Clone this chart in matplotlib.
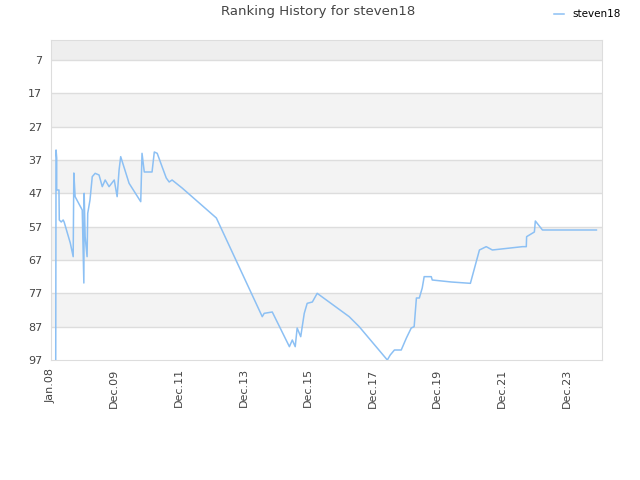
import matplotlib
matplotlib.use("Agg")
import matplotlib.pyplot as plt

# Ranking history (decimal year, rank)
years = [2008.11, 2008.12, 2008.14, 2008.14, 2008.21, 2008.22, 2008.28, 2008.34, 2008.37,
         2008.56, 2008.65, 2008.67, 2008.71, 2008.93, 2008.98, 2008.99, 2009.02, 2009.08,
         2009.10, 2009.17, 2009.24, 2009.33, 2009.45, 2009.55, 2009.64, 2009.76, 2009.92,
         2010.01, 2010.07, 2010.12, 2010.38, 2010.74, 2010.78, 2010.85, 2011.09, 2011.16,
         2011.25, 2011.40, 2011.53, 2011.62, 2011.71, 2012.02, 2013.08, 2014.50, 2014.56,
         2014.81, 2015.34, 2015.43, 2015.52, 2015.58, 2015.69, 2015.80, 2015.89, 2016.05,
         2016.20, 2017.19, 2017.50, 2018.37, 2018.46, 2018.59, 2018.80, 2018.96, 2019.11,
         2019.20, 2019.27, 2019.36, 2019.45, 2019.51, 2019.73, 2019.76, 2020.35, 2020.94,
         2021.22, 2021.43, 2021.62, 2022.55, 2022.67, 2022.68, 2022.92, 2022.95, 2023.17,
         2024.84]
ranks = [97, 34, 36.4, 46, 46, 55, 55.6, 55, 55.6,
         61.9, 66, 40.9, 48, 52, 73.9, 47, 60, 66,
         53, 49, 42, 41, 41.5, 45, 43, 45, 43,
         48, 40, 36, 44, 49.5, 35, 40.6, 40.6, 34.6,
         35, 39, 42.4, 43.6, 43, 45.4, 54.4, 84, 83,
         82.6, 93, 91, 93, 87.4, 90, 83, 80, 79.6,
         77, 84, 87, 97, 95.5, 94, 94, 90.4, 87.4,
         87, 78.4, 78.4, 75.4, 72, 72, 73, 73.6, 74,
         64, 63, 64, 63, 63, 60, 58.6, 55.3, 58,
         58]

tick_labels = ["Jan.08", "Dec.09", "Dec.11", "Dec.13", "Dec.15",
               "Dec.17", "Dec.19", "Dec.21", "Dec.23"]
y_ticks = [7, 17, 27, 37, 47, 57, 67, 77, 87, 97]

x_min, x_max = 2007.95, 2025.0
y_top, y_bottom = 1, 97

fig = plt.figure(figsize=(6.4, 4.8), dpi=100)
ax = fig.add_axes([0.079, 0.25, 0.861, 0.6667])

# background bands
ax.axhspan(y_top, 7, color="#eeeeee", zorder=0, lw=0)
for lo in range(17, 97, 20):
    ax.axhspan(lo, lo + 10, color="#f3f3f3", zorder=0, lw=0)
for t in y_ticks[:-1]:
    ax.axhline(t, color="#dddddd", lw=1, zorder=1)

ax.plot(years, ranks, color="#8cc0f4", lw=1.1, zorder=3, label="steven18")

ax.set_xlim(x_min, x_max)
ax.set_ylim(y_bottom, y_top)

x_ticks = [x_min] + [2009.917 + 2 * i for i in range(8)]
ax.set_xticks(x_ticks)
ax.set_xticklabels(tick_labels, rotation=90, fontsize=8, color="#444444")
ax.set_yticks(y_ticks)
ax.set_yticklabels([str(t) for t in y_ticks], fontsize=8, color="#444444")
ax.tick_params(length=0, pad=6)

for s in ax.spines.values():
    s.set_color("#dddddd")

fig.text(0.497, 0.975, "Ranking History for steven18", ha="center", va="center",
         fontsize=9.5, color="#444444")
ax.legend(loc="upper right", bbox_to_anchor=(0.985, 1.0), bbox_transform=fig.transFigure,
          frameon=False, fontsize=7.5, handlelength=1.0, handletextpad=0.8)

plt.savefig("out.png", dpi=100)
